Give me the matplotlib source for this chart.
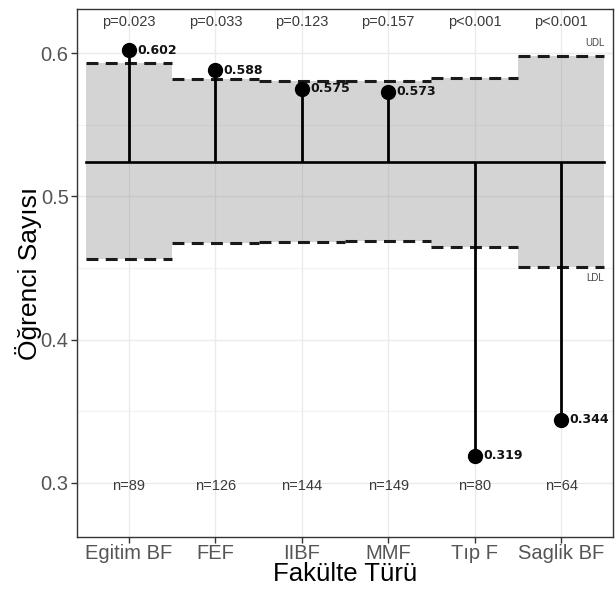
import matplotlib
matplotlib.use("Agg")
import matplotlib.pyplot as plt
import numpy as np

categories = ["Egitim BF", "FEF", "IIBF", "MMF", "Tıp F", "Saglik BF"]
values = [0.602, 0.588, 0.575, 0.573, 0.319, 0.344]
value_labels = ["0.602", "0.588", "0.575", "0.573", "0.319", "0.344"]
udl = [0.5932, 0.5819, 0.5807, 0.5805, 0.5828, 0.5979]
ldl = [0.4562, 0.4672, 0.4683, 0.4690, 0.4649, 0.4510]
center = 0.5239
p_labels = ["p=0.023", "p=0.033", "p=0.123", "p=0.157", "p<0.001", "p<0.001"]
n_labels = ["n=89", "n=126", "n=144", "n=149", "n=80", "n=64"]
y_ticks = [0.3, 0.4, 0.5, 0.6]
y_minor = [0.35, 0.45, 0.55]
p_y = 0.6216
n_y = 0.298

plt.rcParams['font.family'] = ['Liberation Sans', 'DejaVu Sans']

fig = plt.figure(figsize=(6.16, 5.90), dpi=100)
ax = fig.add_axes([0.125, 0.0898, 0.870, 0.8949])

x = np.arange(len(categories))
ax.set_xlim(-0.6, len(categories) - 0.4)
ax.set_ylim(0.2622, 0.6307)

# grid
for yv in y_ticks:
    ax.axhline(yv, color='#EBEBEB', lw=1.0, zorder=0)
for yv in y_minor:
    ax.axhline(yv, color='#F2F2F2', lw=0.8, zorder=0)
for xv in x:
    ax.axvline(xv, color='#EBEBEB', lw=1.0, zorder=0)

# shaded band
for i in x:
    ax.fill_between([i - 0.5, i + 0.5], [ldl[i]] * 2, [udl[i]] * 2,
                    color='#7F7F7F', alpha=0.33, lw=0, zorder=1)
    ax.plot([i - 0.5, i + 0.5], [udl[i]] * 2, color='#1a1a1a', lw=2.2,
            linestyle=(0, (3.9, 2.4)), dash_capstyle='butt', zorder=2)
    ax.plot([i - 0.5, i + 0.5], [ldl[i]] * 2, color='#1a1a1a', lw=2.2,
            linestyle=(0, (3.9, 2.4)), dash_capstyle='butt', zorder=2)

ax.plot([-0.5, len(categories) - 0.5], [center, center], color='black', lw=1.9, zorder=3)
ax.vlines(x, center, values, color='black', lw=2.0, zorder=3)
ax.plot(x, values, 'o', color='black', markersize=10, zorder=4)

for i in x:
    ax.annotate(value_labels[i], (x[i], values[i]), xytext=(6.0, 0),
                textcoords='offset points', ha='left', va='center',
                fontsize=9, fontweight='bold', family='DejaVu Sans',
                color='#111111', zorder=5)
    ax.text(x[i], p_y, p_labels[i], ha='center', va='center', fontsize=10.5,
            color='#3a3a3a')
    ax.text(x[i], n_y, n_labels[i], ha='center', va='center', fontsize=10.5,
            color='#3a3a3a')

ax.text(len(categories) - 0.5, udl[-1] + 0.009, "UDL", ha='right', va='center',
        fontsize=7, color='#444444')
ax.text(len(categories) - 0.5, ldl[-1] - 0.008, "LDL", ha='right', va='center',
        fontsize=7, color='#444444')

ax.set_xticks(x)
ax.set_xticklabels(categories)
ax.set_yticks(y_ticks)
ax.set_yticklabels([f"{v:.1f}" for v in y_ticks])
ax.tick_params(axis='both', colors='#333333', labelcolor='#555555',
               labelsize=14.5, length=4, width=1)
ax.tick_params(axis='x', pad=1)
ax.tick_params(axis='y', pad=2)

for s in ax.spines.values():
    s.set_color('#333333')
    s.set_linewidth(1.0)

ax.set_xlabel("Fakülte Türü", fontsize=18.5, color='black', labelpad=-1)
ax.set_ylabel("Öğrenci Sayısı", fontsize=19, color='black', labelpad=-1)

fig.savefig("out.png", dpi=100)
